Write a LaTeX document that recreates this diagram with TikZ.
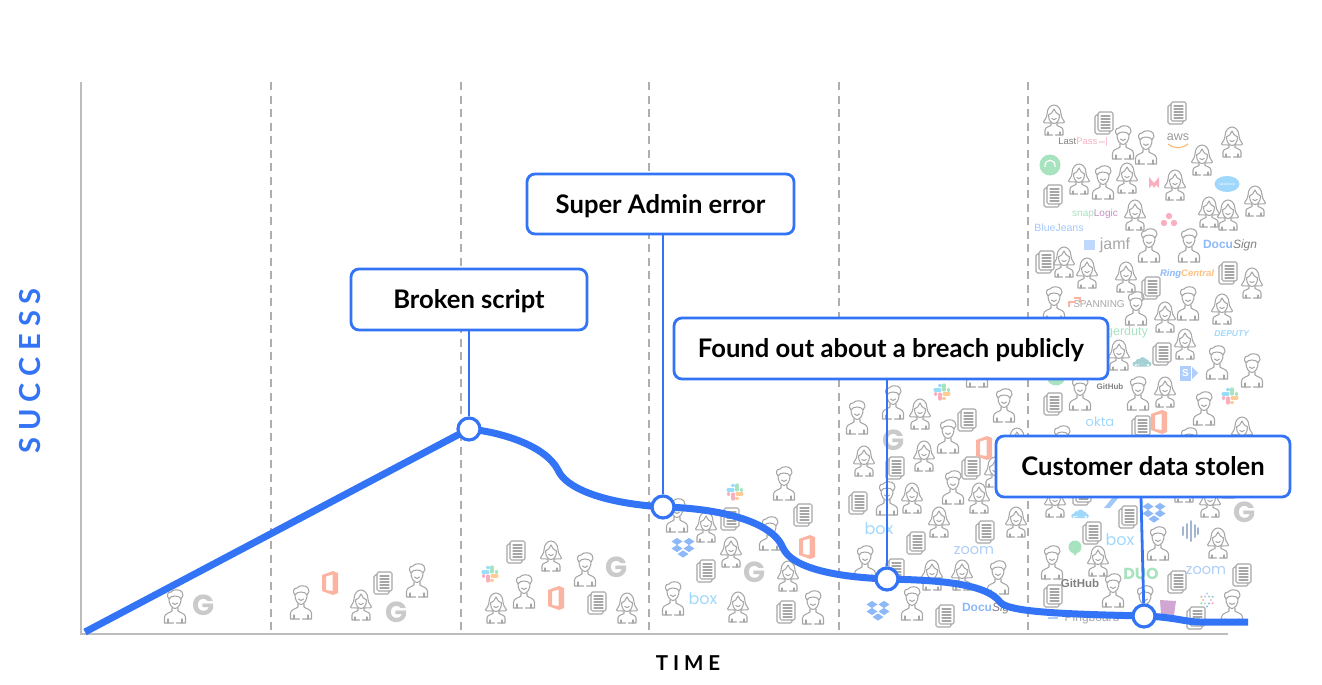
\documentclass[tikz,border=0pt]{standalone}
\usepackage{fontspec}
\setmainfont{Lato}
\newfontfamily\spacedfont[LetterSpace=24]{Lato}
\newfontfamily\logofont{Liberation Sans}
\newfontfamily\roundfont{Poppins}
\definecolor{curveblue}{HTML}{3374F6}
\definecolor{axisgray}{HTML}{BDBDBD}
\definecolor{icongray}{HTML}{A6A6A6}
\definecolor{gletter}{HTML}{CACACA}
\definecolor{officered}{HTML}{FCB4A2}
\definecolor{dropblue}{HTML}{8DB9F9}
\definecolor{boxblue}{HTML}{A0D8FB}
\definecolor{zoomblue}{HTML}{AFCDF6}
\definecolor{softgreen}{HTML}{A6E3BE}
\definecolor{softpink}{HTML}{F8AFC0}
\definecolor{softteal}{HTML}{A4CFD3}
\tikzset{
  iconline/.style={icongray, line width=1.05pt, line cap=round, line join=round},
  manicon/.pic={
    \draw[iconline] (-6,-8) .. controls (-6.5,-2) and (-3,2.5) .. (0,2.5) .. controls (3,2.5) and (6.5,-2) .. (6,-8);
    \draw[iconline] (-6,-7) .. controls (-8.5,-10) and (-8,-14) .. (-4,-14) .. controls (-2,-17) and (5,-17) .. (7,-14) .. controls (9,-12) and (8,-9) .. (6,-7) .. controls (5,-9) and (3,-10) .. (0,-10) .. controls (-3,-10) and (-5,-9) .. (-6,-7);
    \draw[iconline] (-2.5,-3) .. controls (-1,-1) and (1,-1) .. (2.5,-3);
    \draw[iconline] (-3,2) -- (-3,5) .. controls (-5,7) and (-10,7) .. (-10.5,11) -- (-10.5,17) -- (-1.5,17);
    \draw[iconline] (3,2) -- (3,5) .. controls (5,7) and (10,7) .. (10.5,11) -- (10.5,17) -- (1.5,17);
    \draw[iconline] (-7,13) -- (-7,17) (7,13) -- (7,17);
  },
  womanicon/.pic={
    \draw[iconline] (-3.5,3) .. controls (-6,2) and (-10,4) .. (-10.5,2) .. controls (-10,0) and (-7,-2) .. (-7,-6) .. controls (-7,-12) and (-3,-15) .. (0,-15) .. controls (3,-15) and (7,-12) .. (7,-6) .. controls (7,-2) and (10,0) .. (10.5,2) .. controls (10,4) and (6,2) .. (3.5,3);
    \draw[iconline] (-5.5,-5) .. controls (-3,-6) and (-1,-8) .. (0,-11) .. controls (1,-8) and (3,-6) .. (5.5,-5);
    \draw[iconline] (-5.5,-5) .. controls (-5.5,0) and (-3,3.5) .. (0,3.5) .. controls (3,3.5) and (5.5,0) .. (5.5,-5);
    \draw[iconline] (-2.2,-1.5) .. controls (-1,0) and (1,0) .. (2.2,-1.5);
    \draw[iconline] (-3,3) -- (-3,5.5) .. controls (-5,7) and (-9,7) .. (-9,10) -- (-9,15) -- (-1.5,15);
    \draw[iconline] (3,3) -- (3,5.5) .. controls (5,7) and (9,7) .. (9,10) -- (9,15) -- (1.5,15);
    \draw[iconline] (-6,12) -- (-6,15) (6,12) -- (6,15);
  },
  docicon/.pic={
    \draw[iconline, rounded corners=1.5pt] (-6,-11) rectangle (9,8);
    \draw[iconline, rounded corners=1.5pt] (-6,-8) -- (-9,-8) -- (-9,11) -- (6,11) -- (6,8);
    \foreach \ly in {-7,-4,-1,2,5}
      \draw[iconline] (-3,\ly) -- (6,\ly);
  },
  officelogo/.pic={
    \fill[officered, even odd rule] (-8,-8) -- (3,-12) -- (8,-10) -- (8,10) -- (3,12) -- (-8,8) -- cycle
      (-4,-6.5) -- (2.5,-8.5) -- (2.5,8) -- (-4,7) -- cycle;
  },
  slacklogo/.pic={
    \draw[line width=3.2pt, line cap=round, color=cyan!40] (-7,-2) -- (-2,-2) (-2,-6.5) -- (-2,-6.4);
    \draw[line width=3.2pt, line cap=round, color=softgreen] (2,-7) -- (2,-2) (6.5,-2) -- (6.4,-2);
    \draw[line width=3.2pt, line cap=round, color=orange!40] (2,2) -- (7,2) (2,6.5) -- (2,6.4);
    \draw[line width=3.2pt, line cap=round, color=softpink] (-2,2) -- (-2,7) (-6.5,2) -- (-6.4,2);
  },
  dropboxlogo/.pic={
    \foreach \dx/\dy in {-6/-5.5, 6/-5.5, -6/1.5, 6/1.5, 0/7}
      \fill[dropblue] (\dx-5.5,\dy) -- (\dx,\dy-3.6) -- (\dx+5.5,\dy) -- (\dx,\dy+3.6) -- cycle;
  },
  cloudlogo/.pic={
    \fill[pic actions] (-10,3) circle (3.5) (-5,0) circle (4.5) (1,-2) circle (5) (6,0) circle (4) (10,3) circle (3.5) (-10,3) rectangle (10,6.5);
  },
  gmark/.style={font=\roundfont\fontsize{29}{29}\selectfont\bfseries, gletter, inner sep=0pt},
  logotxt/.style={font=\logofont\fontsize{#1}{#1}\selectfont, inner sep=0pt},
  roundtxt/.style={font=\roundfont\fontsize{#1}{#1}\selectfont, inner sep=0pt},
  markbox/.style={draw=curveblue, line width=2.8pt, fill=white, rounded corners=8pt, font=\fontsize{25.6}{26}\selectfont\bfseries, text=black, inner sep=0pt, text height=18pt, text depth=0pt},
  markdot/.style={circle, draw=curveblue, line width=3.2pt, fill=white, minimum size=22pt, inner sep=0pt},
  leader/.style={curveblue, line width=2.8pt},
  curveline/.style={curveblue, line width=7pt, line join=round},
  gridline/.style={axisgray!92!black, line width=1.5pt, dash pattern=on 8pt off 5.5pt},
}

\begin{document}
\begin{tikzpicture}[x=1pt,y=-1pt]
   \useasboundingbox (0,0) rectangle (1322,685);

   % axes and columns
   \foreach \gx in {271,461,649,839,1028}
     \draw[gridline] (\gx,82) -- (\gx,632);
   \draw[axisgray, line width=1.6pt] (81,82) -- (81,634) -- (1228,634);

   % people
   \foreach \px/\py in {175/606, 301/602, 417/580, 585/569, 524/591,
       677/515, 784/483, 770/533, 673/598, 813/607,
       893/402, 857/417, 1004/405, 977/370, 948/436, 887/498, 953/487, 865/562, 998/577, 912/603,
       1123/142, 1146/147, 1103/182, 1149/245, 1189/245, 1054/303, 1136/308, 1188/303,
       1217/362, 1252/370, 1080/393, 1138/393, 1204/408, 1062/442, 1189/444,
       1158/543, 1052/562, 1113/590, 1145/602, 1232/606}
     \pic at (\px,\py) {manicon};
   \foreach \px/\py in {361/605, 551/556, 496/608, 627/608,
       706/527, 731/552, 788/576, 738/607,
       920/414, 864/461, 924/456, 995/472, 1017/443, 912/498, 979/498, 939/522, 1016/522, 932/575, 962/575,
       1054/120, 1232/142, 1202/160, 1079/179, 1127/178, 1175/185, 1255/201, 1209/212, 1228/215, 1135/215,
       1064/262, 1087/273, 1126/277, 1252/283, 1165/317, 1222/309, 1185/344, 1119/355, 1165/392, 1242/432,
       1055/502, 1184/487, 1210/502, 1218/543, 1098/561}
     \pic at (\px,\py) {womanicon};
   \foreach \px/\py in {383/583, 516/552, 597/603,
       730/519, 803/515, 706/571, 786/612,
       967/420, 895/468, 971/468, 858/503, 985/532, 916/543, 895/570, 945/616,
       1104/123, 1177/113, 1053/196, 1045/262, 1228/273, 1151/288, 1162/354, 1053/404, 1141/427,
       1082/494, 1128/517, 1230/487, 1092/533, 1242/575, 1177/582, 1053/596, 1196/618}
     \pic at (\px,\py) {docicon};

   % logos
   \foreach \lx/\ly [count=\i] in {204/605, 397/612, 617/567, 755/572, 894/440, 1245/512}
     \node[gmark] (gmark\i) at (\lx,\ly) {G};
   \foreach \lx/\ly in {330/583, 556/598, 807/547, 984/448, 1159/422}
     \pic at (\lx,\ly) {officelogo};
   \foreach \lx/\ly in {490/574, 735/492, 942/392, 1230/396}
     \pic at (\lx,\ly) {slacklogo};
   \foreach \lx/\ly in {683/547, 878/610, 1154/512}
     \pic at (\lx,\ly) {dropboxlogo};
   \foreach \lx/\ly [count=\i] in {703/599, 879/529, 1120/540}
     \node[roundtxt=16, boxblue] (boxlogo\i) at (\lx,\ly) {box};
   \foreach \lx/\ly [count=\i] in {974/551, 1206/571}
     \node[roundtxt=14.5, zoomblue] (zoomlogo\i) at (\lx,\ly) {zoom};
   \foreach \lx/\ly [count=\i] in {989/608, 1230/245}
     \node[logotxt=12] (docusign\i) at (\lx,\ly) {\textbf{\color{dropblue}Docu}\textit{\color{gray}Sign}};
   \node[logotxt=9.5] (lastpass) at (1083,142) {\color{gray}Last\color{softpink}Pass\,{\fontsize{6}{6}\selectfont •••}|};
   \node[logotxt=12.5, gray!80] (aws) at (1178,137) {aws};
   \draw[orange!60, line width=1pt] (1168,144) .. controls (1174,149) and (1182,149) .. (1188,144);
   \node[logotxt=10] (snaplogic) at (1095,214) {\color{softgreen}snap\color{violet!45}Logic};
   \node[logotxt=10.5, dropblue!80] (bluejeans) at (1059,228) {BlueJeans};
   \node[logotxt=16, gray!70] (jamf) at (1115,245) {jamf};
   \fill[dropblue!55] (1084,240) -- (1095,240) -- (1095,250) -- (1084,250) -- cycle;
   \node[logotxt=9.5] (ringcentral) at (1187,274) {\textbf{\textit{\color{dropblue}Ring\color{orange!50}Central}}};
   \node[logotxt=10, gray!70] (spanning) at (1099,304) {SPANNING};
   \draw[officered, line width=1.3pt] (1069,307) -- (1069,302) -- (1076,302) (1074,298) -- (1080,298) -- (1080,303);
   \node[logotxt=12.5, softgreen] (pagerduty) at (1120,332) {pagerduty};
   \node[logotxt=8.5, boxblue] (deputy) at (1232,334) {\textbf{\textit{DEPUTY}}};
   \node[logotxt=8, gray] (githubsmall) at (1110,387) {\textbf{GitHub}};
   \node[roundtxt=13, boxblue] (okta) at (1100,422) {okta};
   \node[logotxt=11.5, gray] (github) at (1080,583) {\textbf{GitHub}};
   \node[roundtxt=16, softgreen] (duo) at (1141,574) {\textbf{DUO}};
   \node[logotxt=12, gray!70] (pingboard) at (1092,618) {Pingboard};
   \fill[dropblue!70] (1048,617) rectangle (1058,619);
   \fill[softgreen] (1056,376) circle (9.5);
   \fill[softgreen] (1050,165) circle (10.5);
   \draw[white, line width=1.2pt] (1045,167) .. controls (1044,158) and (1056,158) .. (1055,167);
   \fill[softpink] (1149,177) -- (1154,183) -- (1159,177) -- (1159,188) -- (1156,185) -- (1154,188) -- (1152,185) -- (1149,188) -- cycle;
   \fill[boxblue] (1227,184) ellipse (12.5 and 8);
   \node[logotxt=3.5, white] (salesforce) at (1227,184) {salesforce};
   \fill[softpink] (1169,216) circle (3.2) (1164,223) circle (3.2) (1174,223) circle (3.2);
   \pic[fill=softteal, scale=0.7] at (1142,362) {cloudlogo};
   \pic[fill=boxblue, scale=0.65] at (1080,514) {cloudlogo};
   \fill[dropblue!80] (1110,508) -- (1104,508) -- (1113,497) -- (1119,497) -- cycle;
   \fill[dropblue!70] (1180,366) rectangle (1191,381);
   \fill[dropblue!70] (1192,367) -- (1198,373) -- (1192,379) -- cycle;
   \node[logotxt=10, white] (sharepoint) at (1185.5,373.5) {\textbf{S}};
   \foreach \wx/\wh in {1183/4, 1187/7, 1191/10, 1195/6, 1198/3}
     \draw[zoomblue!70!gray, line width=2pt, line cap=round] (\wx,531-\wh) -- (\wx,531+\wh);
   \fill[softgreen] (1075,547) circle (6.5);
   \fill[softgreen] (1072,551) -- (1078,551) -- (1075,556) -- cycle;
   \fill[violet!35] (1160,600) -- (1176,601) -- (1174,615) -- (1161,614) -- cycle;
   \foreach \ang/\dotcol in {0/softpink, 60/dropblue, 120/softgreen, 180/officered, 240/zoomblue, 300/softteal}
     \fill[\dotcol] (1207,600) ++(\ang:4) circle (1.2) (1207,600) ++(\ang+30:6.5) circle (1.2);

   % curve
   \coordinate (startpt) at (85,632);
   \coordinate (brokenpt) at (469,429);
   \coordinate (superpt) at (663,507);
   \coordinate (foundpt) at (887,579);
   \coordinate (stolenpt) at (1144,616);
   \coordinate (endpt) at (1248,622);
   \draw[curveline] (startpt) -- (brokenpt)
      .. controls (500,432) and (545,445) .. (558,470)
      .. controls (565,487) and (600,503) .. (superpt)
      .. controls (715,508) and (772,520) .. (783,548)
      .. controls (792,568) and (835,577) .. (foundpt)
      .. controls (930,580) and (985,582) .. (1000,602)
      .. controls (1008,612) and (1060,614) .. (stolenpt)
      .. controls (1175,617) and (1185,622) .. (1200,622) -- (endpt);

   % callouts
   \node[markbox, minimum width=236pt, minimum height=61pt] (brokenbox) at (469,299.5) {Broken script};
   \node[markbox, minimum width=267pt, minimum height=60pt] (superbox) at (660.5,204) {Super Admin error};
   \node[markbox, minimum width=434pt, minimum height=61pt] (foundbox) at (891,348.5) {Found out about a breach publicly};
   \node[markbox, minimum width=294pt, minimum height=61pt] (stolenbox) at (1143,466.5) {Customer data stolen};
   \node[markdot] (brokendot) at (brokenpt) {};
   \node[markdot] (superdot) at (superpt) {};
   \node[markdot] (founddot) at (foundpt) {};
   \node[markdot] (stolendot) at (stolenpt) {};
   \draw[leader] (brokendot |- brokenbox.south) -- (brokendot);
   \draw[leader] (superdot |- superbox.south) -- (superdot);
   \draw[leader] (founddot |- foundbox.south) -- (founddot);
   \draw[leader] (1141,497) -- (stolendot);

   % axis labels
   \node[curveblue, rotate=90, inner sep=0pt, font=\spacedfont\fontsize{29}{29}\selectfont\bfseries] (successlabel) at (30,371) {SUCCESS};
   \node[black, inner sep=0pt, font=\spacedfont\fontsize{20.5}{20.5}\selectfont\bfseries] (timelabel) at (688,663) {TIME};
\end{tikzpicture}
\end{document}
